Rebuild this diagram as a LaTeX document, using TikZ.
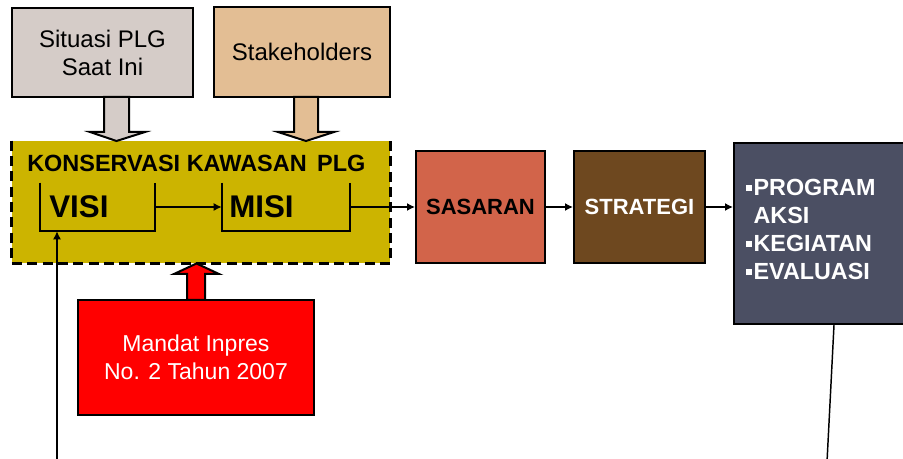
\documentclass[tikz,border=0pt]{standalone}
\usepackage{fontspec}
\setmainfont{Liberation Sans}
\usetikzlibrary{calc,arrows.meta}
\definecolor{sitc}{HTML}{D5CCC8}
\definecolor{stkc}{HTML}{E3BE94}
\definecolor{yelc}{HTML}{CCB400}
\definecolor{sasc}{HTML}{D2644A}
\definecolor{strc}{HTML}{6E481F}
\definecolor{prgc}{HTML}{4B4F63}
\definecolor{redc}{HTML}{FF0000}
\newcommand{\bulsq}{\rule[3.4pt]{4.5pt}{4.5pt}\hspace{1pt}}
\begin{document}
\begin{tikzpicture}[x=0.75pt,y=-0.75pt,
  box/.style={draw=black, line width=1.5pt, rectangle, inner sep=0pt},
  conn/.style={-{Latex[length=6pt,width=6pt]}, line width=1.1pt},
  plain/.style={line width=1.1pt},
  blockarrow/.style={draw=black, line width=1.5pt, line join=miter},
  bracket/.style={line width=1.5pt},
  bigtxt/.style={font=\fontsize{18}{21}\selectfont, align=center},
  boldtxt/.style={font=\fontsize{16.5}{21}\selectfont\bfseries}]
\useasboundingbox (0,0) rectangle (903,459);
\clip (0,0) rectangle (903,459);

% top boxes
\node[box, fill=sitc, minimum width=135.75pt, minimum height=66.75pt, bigtxt] (sit) at (102.5,52.5) {Situasi PLG\\Saat Ini};
\node[box, fill=stkc, minimum width=132pt, minimum height=67.5pt, bigtxt] (stk) at (302,52) {Stakeholders};

% yellow dashed area
\node[rectangle, fill=yelc, inner sep=0pt, minimum width=283.5pt, minimum height=91.5pt] (kon) at (201,202) {};
\draw[line width=2pt, dash pattern=on 7.5pt off 4pt] (kon.north west) -- (kon.south west) -- (kon.south east) -- (kon.north east);
\node[anchor=west, inner sep=0pt, font=\fontsize{17.6}{21}\selectfont\bfseries] (title) at (27,163) {KONSERVASI KAWASAN \,PLG};

\node[rectangle, inner sep=0pt, minimum width=86.25pt, minimum height=36pt] (visi) at (97.5,207) {};
\node[rectangle, inner sep=0pt, minimum width=96pt, minimum height=36pt] (misi) at (286,207) {};
\draw[bracket] (visi.north west) -- (visi.south west) -- (visi.south east) -- (visi.north east);
\draw[bracket] (misi.north west) -- (misi.south west) -- (misi.south east) -- (misi.north east);
\node[anchor=west, inner sep=0pt, font=\fontsize{23.5}{24}\selectfont\bfseries] (visit) at (49,207) {VISI};
\node[anchor=west, inner sep=0pt, font=\fontsize{23.5}{24}\selectfont\bfseries] (misit) at (229,207) {MISI};

% right boxes
\node[box, fill=sasc, minimum width=96.75pt, minimum height=84pt, boldtxt] (sas) at (480.5,207) {SASARAN};
\node[box, fill=strc, minimum width=98.25pt, minimum height=84pt, boldtxt, text=white] (str) at (639.5,207) {STRATEGI};
\node[box, fill=prgc, minimum width=139.5pt, minimum height=135.75pt] (prog) at (827,233.5) {};
\node[anchor=north west, inner sep=0pt, font=\fontsize{17.5}{21}\selectfont\bfseries, text=white, align=left] (progt) at (746,179)
  {\bulsq PROGRAM\\\hphantom{\bulsq}AKSI\\\bulsq KEGIATAN\\\bulsq EVALUASI};

% red box
\node[box, fill=redc, minimum width=177pt, minimum height=86.25pt, text=white, font=\fontsize{17.25}{21}\selectfont, align=center] (mand) at (196,357.5) {Mandat Inpres\\No. 2 Tahun 2007};

% block arrows
\draw[blockarrow, fill=sitc] (104,97) -- (104,132) -- (90,132) -- (116.5,141) -- (145,132) -- (129,132) -- (129,97) -- cycle;
\draw[blockarrow, fill=stkc] (294,97) -- (294,132) -- (278,132) -- (306,141) -- (334,132) -- (318,132) -- (318,97) -- cycle;
\draw[blockarrow, fill=redc] (187,300) -- (187,274) -- (174,274) -- (196.5,263.5) -- (219,274) -- (205,274) -- (205,300) -- cycle;

% connectors
\draw[conn] (visi.east) -- (misi.west);
\draw[conn] (misi.east) -- (sas.west);
\draw[conn] (sas.east) -- (str.west);
\draw[conn] (str.east) -- (str.east -| prog.west);
\coordinate (b1) at (57,462);
\draw[conn] (b1) -- (b1 |- visi.south);
\coordinate (b2) at (827,462);
\draw[plain] ($(prog.south)+(7,0)$) -- (b2);
\end{tikzpicture}
\end{document}
